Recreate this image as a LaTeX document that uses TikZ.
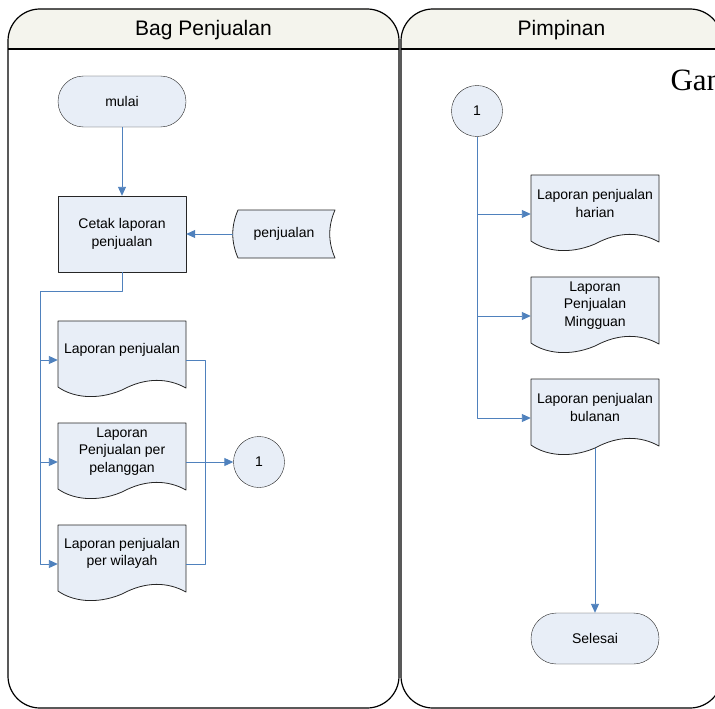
\documentclass[tikz,border=0pt]{standalone}
\usepackage{fontspec}
\setmainfont{Liberation Sans}
\newfontfamily\serifgan{Liberation Serif}
\usetikzlibrary{arrows.meta}
\definecolor{isi}{RGB}{232,238,247}
\definecolor{garis}{RGB}{79,129,189}
\definecolor{kepala}{RGB}{244,244,237}
% dokumen: nama, x kiri, y atas, teks
\newcommand{\dokumen}[4]{%
  \filldraw[docline] (#2,#3) -- ({#2+128},#3) -- ({#2+128},{#3+67})
    .. controls ({#2+110},{#3+57}) and ({#2+88},{#3+56}) .. ({#2+64},{#3+69})
    .. controls ({#2+38},{#3+80}) and ({#2+14},{#3+76}) .. (#2,{#3+66}) -- cycle;
  \node[docbox, label={[doclabel]center:#4}] (#1) at ({#2+64},{#3+39}) {};
}
\begin{document}
\begin{tikzpicture}[x=1pt, y=-1pt, font=\fontsize{14}{17.5}\selectfont, line join=round, >={Triangle[length=9pt,width=8pt]},
	mulaiselesai/.style={draw=black!85, fill=isi, rounded corners=25.5pt, minimum width=128pt, minimum height=51pt, inner sep=0pt},
	proses/.style={draw=black!85, fill=isi, minimum width=128pt, minimum height=76pt, align=center, inner sep=0pt},
	penghubung/.style={draw=black!85, fill=isi, circle, minimum size=51pt, inner sep=0pt},
	docbox/.style={minimum width=128pt, minimum height=60pt, inner sep=0pt},
	doclabel/.style={align=center, inner sep=0pt, yshift=10.5pt},
	docline/.style={draw=black!85, fill=isi, line width=0.8pt},
	alur/.style={draw=garis, line width=0.9pt}]
		\useasboundingbox (0,0) rectangle (715,709);
		% lajur
		\foreach \xa/\xb/\nama [count=\i] in {8/399/Bag Penjualan, 401/722/Pimpinan} {
			\begin{scope}
				\clip[rounded corners=32pt] (\xa,9) rectangle (\xb,708);
				\fill[kepala] (\xa,9) rectangle (\xb,49);
			\end{scope}
			\draw[line width=1.2pt, rounded corners=32pt] (\xa,9) rectangle (\xb,708);
			\draw[line width=1.2pt] (\xa,49) -- (\xb,49);
			\node[font=\fontsize{21}{24}\selectfont, anchor=base] (lajur\i) at ({(\xa+\xb)/2},36) {\nama};
		}
		\node[font=\serifgan\fontsize{31}{36}\selectfont, anchor=base west] (judul) at (667,90) {Gan};
		% Bag Penjualan
		\node[mulaiselesai] (mulai) at (122,101.5) {mulai};
		\node[proses] (cetak) at (122,234) {Cetak laporan\\penjualan};
		\filldraw[docline] (238,210) -- (335,210) .. controls (328,226) and (328,242) .. (335,258) -- (238,258) .. controls (231,242) and (231,226) .. (238,210) -- cycle;
		\node[minimum width=102pt, minimum height=48pt, inner sep=0pt] (penj) at (284,234) {penjualan};
		\dokumen{lp1}{58}{321}{Laporan penjualan}
		\dokumen{lp2}{58}{423}{Laporan\\Penjualan per\\pelanggan}
		\dokumen{lp3}{58}{525}{Laporan penjualan\\per wilayah}
		\node[penghubung] (hub1) at (259,462) {1};
		% Pimpinan
		\node[penghubung] (hub2) at (477,111) {1};
		\dokumen{lr1}{531}{175}{Laporan penjualan\\harian}
		\dokumen{lr2}{531}{277}{Laporan\\Penjualan\\Mingguan}
		\dokumen{lr3}{531}{379}{Laporan penjualan\\bulanan}
		\node[mulaiselesai] (selesai) at (595,638.5) {Selesai};
		% alur
		\draw[alur,->] (mulai) -- (cetak);
		\draw[alur,->] (penj) -- (cetak);
		\coordinate (cabang1) at (40,291);
		\draw[alur] (cetak.south) |- (cabang1);
		\foreach \d in {lp1,lp2,lp3} \draw[alur,->] (cabang1) |- (\d.west);
		\coordinate (gabung) at (205,462);
		\draw[alur] (lp1.east) -| (gabung);
		\draw[alur] (lp3.east) -| (gabung);
		\draw[alur,->] (lp2.east) -- (hub1);
		\foreach \d in {lr1,lr2,lr3} \draw[alur,->] (hub2.south) |- (\d.west);
		\draw[alur,->] (lr3.south) -- (selesai);
	\end{tikzpicture}
\end{document}
